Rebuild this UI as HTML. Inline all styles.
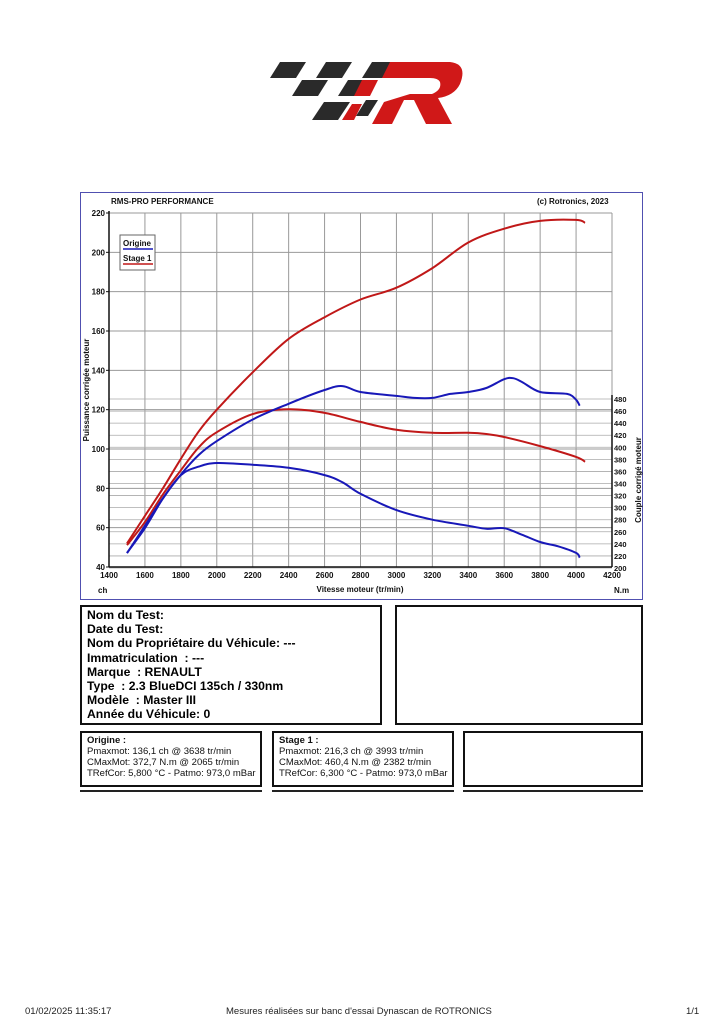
<!DOCTYPE html>
<html><head><meta charset="utf-8"><style>
body{margin:0;background:#fff;width:724px;height:1024px;position:relative;font-family:"Liberation Sans",sans-serif;overflow:hidden}
.box{position:absolute;border:2px solid #111;box-sizing:border-box}
.sh{position:absolute;height:2px;background:#222}
.info{font-weight:bold;font-size:12.2px;line-height:14.2px;padding:1px 0 0 5px}
.sm{font-size:9.5px;line-height:11px;padding:2px 0 0 5px;color:#111}
.ft{position:absolute;top:1006px;font-size:9.5px;color:#222}
</style></head><body>
<svg style="position:absolute;left:262px;top:50px" width="206" height="82" viewBox="0 0 206 82">
<g fill="#2a2a2a">
<polygon points="18,12 44,12 34,28 8,28"/><polygon points="64,12 90,12 80,28 54,28"/><polygon points="110,12 140,12 128,28 100,28"/>
<polygon points="40,30 66,30 56,46 30,46"/><polygon points="86,30 112,30 102,46 76,46"/>
<polygon points="62,52 88,52 76,70 50,70"/><polygon points="104,50 116,50 106,66 94,66"/>
</g>
<g fill="#d01818">
<polygon points="100,30 116,30 108,46 92,46"/><polygon points="90,54 100,54 92,70 80,70"/>
<path d="M128,12 L188,12 Q206,14 198,34 Q192,46 176,48 L190,74 L164,74 L152,50 L142,50 L130,74 L110,74 L122,52 L148,44 L170,44 Q180,40 178,32 Q176,28 168,28 L120,28 Z"/>
</g>
</svg>

<div style="position:absolute;left:80px;top:192px;width:563px;height:408px;border:1.5px solid #5050b0;box-sizing:border-box"></div>
<svg id="chart" style="position:absolute;left:0;top:0" width="724" height="620"></svg>

<div class="box" style="left:80px;top:605px;width:302px;height:120px"><div class="info">Nom du Test:<br>Date du Test:<br>Nom du Propriétaire du Véhicule: ---<br>Immatriculation &nbsp;: ---<br>Marque &nbsp;: RENAULT<br>Type &nbsp;: 2.3 BlueDCI 135ch / 330nm<br>Modèle &nbsp;: Master III<br>Année du Véhicule: 0</div></div>
<div class="box" style="left:395px;top:605px;width:248px;height:120px"></div>
<div class="box" style="left:80px;top:731px;width:182px;height:56px"><div class="sm"><b>Origine :</b><br>Pmaxmot: 136,1 ch @ 3638 tr/min<br>CMaxMot: 372,7 N.m @ 2065 tr/min<br>TRefCor: 5,800 °C - Patmo: 973,0 mBar</div></div>
<div class="box" style="left:272px;top:731px;width:182px;height:56px"><div class="sm"><b>Stage 1 :</b><br>Pmaxmot: 216,3 ch @ 3993 tr/min<br>CMaxMot: 460,4 N.m @ 2382 tr/min<br>TRefCor: 6,300 °C - Patmo: 973,0 mBar</div></div>
<div class="box" style="left:463px;top:731px;width:180px;height:56px"></div>
<div class="sh" style="left:80px;top:790px;width:182px"></div><div class="sh" style="left:272px;top:790px;width:182px"></div><div class="sh" style="left:463px;top:790px;width:180px"></div>

<div class="ft" style="left:25px">01/02/2025 11:35:17</div>
<div class="ft" style="left:226px">Mesures réalisées sur banc d'essai Dynascan de ROTRONICS</div>
<div class="ft" style="left:686px">1/1</div>

<script>
const rpmTicks=[1400,1600,1800,2000,2200,2400,2600,2800,3000,3200,3400,3600,3800,4000,4200];
const powerTicks=[40,60,80,100,120,140,160,180,200,220];
const torqueTicks=[200,220,240,260,280,300,320,340,360,380,400,420,440,460,480];
const origPowRpm=[1500,1600,1700,1800,1900,2000,2200,2400,2600,2700,2800,3000,3100,3200,3300,3400,3500,3600,3650,3700,3800,3950,4000,4020];
const origPow=[47,61,75,87,97,104,115,123,130,132,129,127,126,126,128,129,131,135.5,136,134,129,128,125,122];
const stagePowRpm=[1500,1600,1700,1800,1900,2000,2200,2400,2600,2800,3000,3200,3400,3600,3800,4000,4050];
const stagePow=[52,66,80,95,109,120,139,156,167,176,182,192,205,212,216,216.5,215];
const origTqRpm=[1500,1600,1700,1800,1900,2000,2200,2400,2600,2700,2800,3000,3200,3400,3500,3600,3700,3800,3900,4000,4020];
const origTq=[225,266,315,354,368,374,371,366,354,342,323,296,280,270,265,266,255,243,236,225,217];
const stageTqRpm=[1500,1600,1700,1800,1900,2000,2200,2400,2600,2800,3000,3200,3400,3500,3600,3800,4000,4050];
const stageTq=[238,276,322,362,400,425,455,463,457,442,429,424,424,422,417,402,384,376];

const svg=document.getElementById('chart');const NS='http://www.w3.org/2000/svg';
const X0=109,X1=612,YT=213,YB=567,TY0=568,TY1=399;
const xs=r=>X0+(r-1400)/(4200-1400)*(X1-X0);
const yp=v=>YB-(v-40)/(220-40)*(YB-YT);
const yt=v=>TY0-(v-200)/(480-200)*(TY0-TY1);
function mk(t,a,p){const e=document.createElementNS(NS,t);for(const k in a)e.setAttribute(k,a[k]);(p||svg).appendChild(e);return e;}
function txt(x,y,s,o){const e=mk('text',Object.assign({x:x,y:y,'font-size':8,'font-weight':'bold','font-family':'Liberation Sans, sans-serif',fill:'#111'},o||{}));e.textContent=s;return e;}
const g=mk('g',{});


rpmTicks.forEach(r=>{mk('line',{x1:xs(r),x2:xs(r),y1:YT,y2:YB,stroke:'#999','stroke-width':1},g);
 const t=txt(xs(r),578,r,{'text-anchor':'middle'});});
powerTicks.forEach(v=>{mk('line',{x1:X0,x2:X1,y1:yp(v),y2:yp(v),stroke:'#999','stroke-width':1},g);
 const t=txt(105,yp(v)+3,v,{'text-anchor':'end'});
 mk('line',{x1:X0-3,x2:X0,y1:yp(v),y2:yp(v),stroke:'#111'});});
torqueTicks.forEach(v=>{mk('line',{x1:X0,x2:X1,y1:yt(v),y2:yt(v),stroke:'#aaa','stroke-width':0.8},g);
 const t=txt(614,yt(v)+3,v,{'font-size':7.5});});
mk('line',{x1:X0,x2:X0,y1:YT-2,y2:YB,stroke:'#111','stroke-width':1.5});
mk('line',{x1:X0,x2:X1,y1:YB,y2:YB,stroke:'#111','stroke-width':1.5});
mk('line',{x1:X1,x2:X1,y1:TY1-4,y2:YB,stroke:'#111','stroke-width':1.5});
txt(111,204,'RMS-PRO PERFORMANCE');
txt(537,204,'(c) Rotronics, 2023');
txt(98,593,'ch');
txt(614,593,'N.m');
txt(360,592,'Vitesse moteur (tr/min)',{'text-anchor':'middle'});
const ya=txt(0,0,'Puissance corrigée moteur',{transform:'translate(89,390) rotate(-90)','text-anchor':'middle'});

const yr=txt(0,0,'Couple corrigé moteur',{transform:'translate(641,480) rotate(-90)','text-anchor':'middle'});

function line(xsA,ys,f,col,name){
 const P=xsA.map((r,i)=>[xs(r),f(ys[i])]);
 let d='M'+P[0][0].toFixed(1)+','+P[0][1].toFixed(1);
 for(let i=0;i<P.length-1;i++){const p0=P[i-1]||P[i],p1=P[i],p2=P[i+1],p3=P[i+2]||P[i+1];
  const c1=[p1[0]+(p2[0]-p0[0])/6,p1[1]+(p2[1]-p0[1])/6],c2=[p2[0]-(p3[0]-p1[0])/6,p2[1]-(p3[1]-p1[1])/6];
  d+='C'+c1[0].toFixed(1)+','+c1[1].toFixed(1)+' '+c2[0].toFixed(1)+','+c2[1].toFixed(1)+' '+p2[0].toFixed(1)+','+p2[1].toFixed(1);}
 const e=mk('path',{d:d,fill:'none',stroke:col,'stroke-width':2,'stroke-linejoin':'round'});
 
 }
line(stageTqRpm,stageTq,yt,'#c01818','stage1-torque');
line(origTqRpm,origTq,yt,'#1818b8','origine-torque');
line(stagePowRpm,stagePow,yp,'#c01818','stage1-power');
line(origPowRpm,origPow,yp,'#1818b8','origine-power');
const lg=mk('g',{});


mk('rect',{x:120,y:235,width:35,height:35,fill:'#fff',stroke:'#666'},lg);
txt(123,246,'Origine',{'font-size':8},lg);mk('line',{x1:123,x2:153,y1:249,y2:249,stroke:'#1818b8','stroke-width':1.5},lg);
txt(123,261,'Stage 1',{'font-size':8},lg);mk('line',{x1:123,x2:153,y1:264,y2:264,stroke:'#c01818','stroke-width':1.5},lg);
</script>
</body></html>
